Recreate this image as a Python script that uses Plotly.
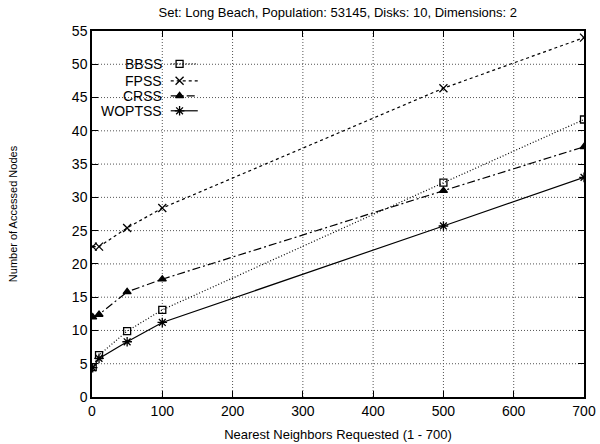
import plotly.graph_objects as go

x_vals = [1, 10, 50, 100, 500, 700]
bbss = [4.5, 6.3, 9.9, 13.1, 32.2, 41.7]
fpss = [22.6, 22.6, 25.4, 28.4, 46.4, 54.0]
crss = [12.0, 12.4, 15.8, 17.7, 31.0, 37.6]
woptss = [4.4, 5.8, 8.3, 11.2, 25.7, 33.0]

series_names = ["BBSS", "FPSS", "CRSS", "WOPTSS"]
series_vals = [bbss, fpss, crss, woptss]
symbols = ["square-open", "x-thin-open", "triangle-up", "asterisk-open"]
dashes = ["1px,2px", "3px,3px", "8px,3px,2px,3px", "solid"]
msizes = [7, 8, 7, 8]

x_ticks = [0, 100, 200, 300, 400, 500, 600, 700]
y_ticks = list(range(0, 56, 5))
x_range = [0, 700]
y_range = [0, 55]

font = "Liberation Sans, Arial, sans-serif"
fig = go.Figure()

# dotted grid at the tick positions
for xv in x_ticks[1:-1]:
    fig.add_shape(type="line", xref="x", yref="y domain", x0=xv, x1=xv, y0=0, y1=1,
                  line=dict(color="#555555", width=1, dash="1px,2px"), layer="below")
for yv in y_ticks[1:-1]:
    fig.add_shape(type="line", xref="x domain", yref="y", x0=0, x1=1, y0=yv, y1=yv,
                  line=dict(color="#555555", width=1, dash="1px,2px"), layer="below")

for name, vals, sym, dash, ms in zip(series_names, series_vals, symbols, dashes, msizes):
    fig.add_trace(go.Scatter(
        x=x_vals, y=vals, mode="lines+markers", name=name, showlegend=False,
        line=dict(color="black", width=1.2, dash=dash),
        marker=dict(symbol=sym, size=ms, color="black", line=dict(color="black", width=1.3)),
    ))

# custom legend (text then sample, as in the reference), placed by fraction of the plot area
def fx(f):
    return x_range[0] + f * (x_range[1] - x_range[0])

def fy(f):
    return y_range[0] + f * (y_range[1] - y_range[0])

leg_y = [0.91, 0.864, 0.823, 0.782]
for name, sym, dash, ms, ly in zip(series_names, symbols, dashes, msizes, leg_y):
    fig.add_trace(go.Scatter(
        x=[fx(0.16), fx(0.215)], y=[fy(ly), fy(ly)], mode="lines",
        showlegend=False, hoverinfo="skip",
        line=dict(color="black", width=1.2, dash=dash),
    ))
    fig.add_trace(go.Scatter(
        x=[fx(0.178)], y=[fy(ly)], mode="markers",
        showlegend=False, hoverinfo="skip",
        marker=dict(symbol=sym, size=ms, color="black", line=dict(color="black", width=1.3)),
    ))
    fig.add_annotation(
        x=0.147, y=ly, xref="x domain", yref="y domain", text=name, showarrow=False,
        xanchor="right", yanchor="middle", font=dict(family=font, size=14, color="black"),
    )

axis_common = dict(
    showline=True, linecolor="black", linewidth=1.5, mirror="ticks",
    ticks="inside", ticklen=6, tickcolor="black", automargin=False,
    showgrid=False, zeroline=False,
    tickfont=dict(family=font, size=14, color="black"),
)

fig.update_layout(
    width=600, height=444,
    margin=dict(l=92, r=16, t=31, b=47),
    paper_bgcolor="white", plot_bgcolor="white",
    title=dict(text="Set: Long Beach, Population: 53145, Disks: 10, Dimensions: 2",
               x=0.563, xanchor="center", y=0.972, yanchor="middle",
               font=dict(family=font, size=13, color="black")),
    xaxis=dict(range=x_range, tickmode="array", tickvals=x_ticks,
               title=dict(text="Nearest Neighbors Requested (1 - 700)", standoff=12,
                          font=dict(family=font, size=13, color="black")),
               **axis_common),
    yaxis=dict(range=y_range, tickmode="array", tickvals=y_ticks,
               title=dict(text="Number of Accessed Nodes", standoff=52,
                          font=dict(family=font, size=11, color="black")),
               **axis_common),
)

fig.write_html("out.html", config={"displayModeBar": False},
               post_script="document.body.style.margin='0';document.body.style.padding='0';")
